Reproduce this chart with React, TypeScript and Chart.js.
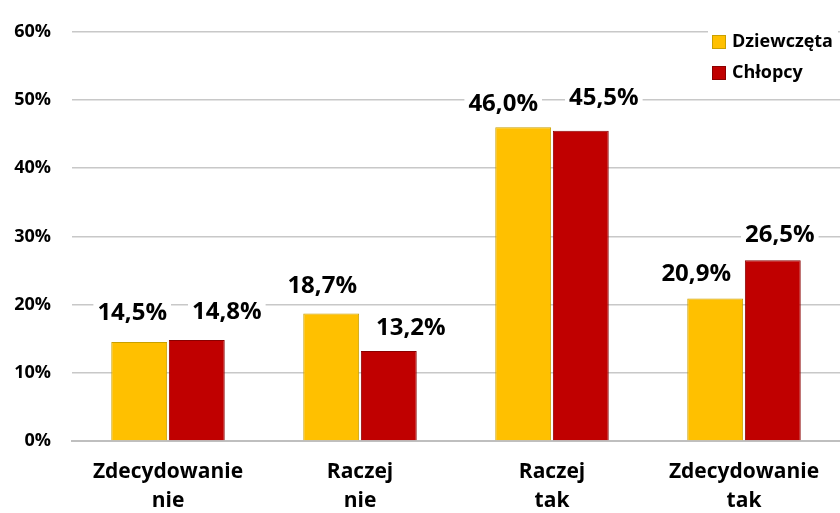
import React, { useEffect, useRef } from "react";
import { Chart, registerables } from "chart.js";

Chart.register(...registerables);

const categories: string[][] = [
  ["Zdecydowanie", "nie"],
  ["Raczej", "nie"],
  ["Raczej", "tak"],
  ["Zdecydowanie", "tak"],
];
const girls = [14.5, 18.7, 46.0, 20.9];
const boys = [14.8, 13.2, 45.5, 26.5];
const seriesNames = ["Dziewczęta", "Chłopcy"];
const yTicks = [0, 10, 20, 30, 40, 50, 60];

const FONT = "'Open Sans', sans-serif";

const fmt = (v: number) => v.toFixed(1).replace(".", ",") + "%";

const labelPlugin = {
  id: "valueLabels",
  afterDatasetsDraw(chart: any) {
    const ctx = chart.ctx;
    const dx = [
      [-7, -9, -20, -19],
      [30, 22, 23, 7],
    ];
    const dy = [
      [30, 28, 24, 25],
      [29, 24, 34, 26],
    ];
    ctx.save();
    ctx.font = `bold 24px ${FONT}`;
    ctx.textAlign = "center";
    ctx.textBaseline = "middle";
    chart.data.datasets.forEach((ds: any, di: number) => {
      const meta = chart.getDatasetMeta(di);
      meta.data.forEach((bar: any, i: number) => {
        const txt = fmt(ds.data[i]);
        const x = bar.x + dx[di][i];
        const y = bar.y - dy[di][i];
        const w = ctx.measureText(txt).width;
        ctx.fillStyle = "#ffffff";
        ctx.fillRect(x - w / 2 - 4, y - 14, w + 8, 28);
        ctx.fillStyle = "#000000";
        ctx.fillText(txt, x, y + 1);
      });
    });
    ctx.restore();
  },
};

const legendPlugin = {
  id: "customLegend",
  afterDraw(chart: any) {
    const ctx = chart.ctx;
    ctx.save();
    ctx.font = `bold 18px ${FONT}`;
    ctx.textBaseline = "middle";
    ctx.textAlign = "left";
    chart.data.datasets.forEach((ds: any, i: number) => {
      const y = 42 + i * 31;
      const x = 712;
      ctx.fillStyle = "#ffffff";
      ctx.fillRect(x - 4, y - 12, 130, 24);
      ctx.fillStyle = ds.backgroundColor;
      ctx.fillRect(x, y - 7, 14, 14);
      ctx.strokeStyle = ds.borderColor;
      ctx.lineWidth = 1;
      ctx.strokeRect(x + 0.5, y - 6.5, 13, 13);
      ctx.fillStyle = "#000000";
      ctx.fillText(ds.label, x + 20, y);
    });
    ctx.restore();
  },
};

export default function App() {
  const ref = useRef<HTMLCanvasElement>(null);
  useEffect(() => {
    document.body.style.margin = "0";
    const chart = new Chart(ref.current!, {
      type: "bar",
      data: {
        labels: categories,
        datasets: [
          {
            label: seriesNames[0],
            data: girls,
            backgroundColor: "#FFC000",
            borderColor: "#C9A000",
            borderWidth: 1,
            categoryPercentage: 0.6,
            barPercentage: 0.97,
          },
          {
            label: seriesNames[1],
            data: boys,
            backgroundColor: "#C00000",
            borderColor: "#8A0000",
            borderWidth: 1,
            categoryPercentage: 0.6,
            barPercentage: 0.97,
          },
        ],
      },
      options: {
        responsive: false,
        animation: false,
        layout: { padding: { top: 27, right: 0, left: 0, bottom: 0 } },
        plugins: {
          legend: { display: false },
          tooltip: { enabled: false },
        },
        scales: {
          x: {
            grid: { display: false, drawTicks: false },
            border: { display: true, color: "#bfbfbf", width: 2 },
            ticks: {
              color: "#000",
              font: { family: FONT, size: 21, weight: "bold", lineHeight: 1.38 },
              padding: 17,
              maxRotation: 0,
            },
            afterFit: (s: any) => {
              s.height = 72;
            },
          },
          y: {
            min: 0,
            max: 60,
            afterBuildTicks: (s: any) => {
              s.ticks = yTicks.map((v) => ({ value: v }));
            },
            grid: { color: "#c8c8c8", lineWidth: 1.5, drawTicks: false },
            border: { display: false },
            ticks: {
              color: "#000",
              font: { family: FONT, size: 18, weight: "bold" },
              padding: 21,
              callback: (v: any) => v + "%",
            },
            afterFit: (s: any) => {
              s.width = 72;
            },
          },
        },
      },
      plugins: [labelPlugin, legendPlugin],
    });
    return () => chart.destroy();
  }, []);
  return (
    <div style={{ width: 840, height: 513 }}>
      <canvas ref={ref} width={840} height={513} />
    </div>
  );
}
